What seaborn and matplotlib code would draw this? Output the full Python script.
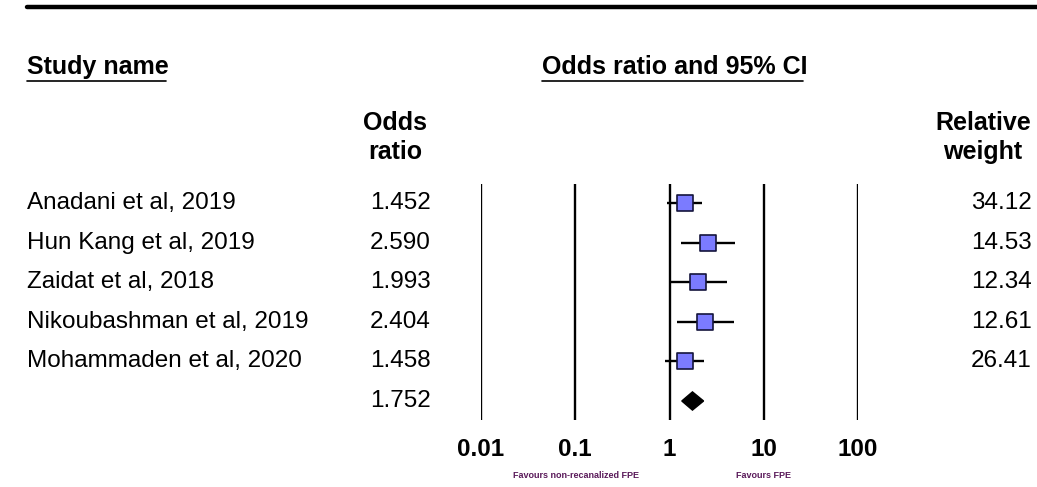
import matplotlib
matplotlib.use('Agg')
import matplotlib.pyplot as plt
import matplotlib.transforms as mtransforms
from matplotlib.lines import Line2D
import numpy as np
import pandas as pd
import seaborn as sns

# ---- data -----------------------------------------------------------------
studies = ['Anadani et al, 2019', 'Hun Kang et al, 2019', 'Zaidat et al, 2018',
           'Nikoubashman et al, 2019', 'Mohammaden et al, 2020']
odds = [1.452, 2.590, 1.993, 2.404, 1.458]
lower = [0.94, 1.34, 0.98, 1.19, 0.90]
upper = [2.22, 4.95, 4.03, 4.80, 2.33]
weights = [34.12, 14.53, 12.34, 12.61, 26.41]
pooled_or = 1.752
pooled_lo = 1.35
pooled_hi = 2.30
ticks = [0.01, 0.1, 1, 10, 100]
tick_labels = ['0.01', '0.1', '1', '10', '100']

sns.set_style('white')
plt.rcParams['font.family'] = ['Liberation Sans Narrow', 'Liberation Sans', 'DejaVu Sans']
plt.rcParams['text.color'] = 'black'
plt.rcParams['xtick.color'] = 'black'

W, H = 1037, 487
fig = plt.figure(figsize=(W / 100, H / 100), dpi=100)

# forest area: 0.01 at x=481px, 100 at x=858px, lines from y=184 to y=420
ax = fig.add_axes([481 / W, 1 - 420 / H, (858 - 481) / W, (420 - 184) / H])
ax.set_xscale('log')
ax.set_xlim(0.01, 100)
ax.set_ylim(5.48, -0.48)
for s in ax.spines.values():
    s.set_visible(False)

for t in ticks:
    ax.axvline(t, color='black', lw=1.7, zorder=1)

df = pd.DataFrame({'study': studies, 'odds': odds, 'lo': lower, 'hi': upper,
                   'row': np.arange(len(studies))})
ax.hlines(df['row'], df['lo'], df['hi'], color='black', lw=1.7, zorder=2)
sns.scatterplot(data=df, x='odds', y='row', marker='s', s=120, color='#7b7bff',
                edgecolor='#14143c', linewidth=1.2, zorder=3, ax=ax, legend=False)

# pooled diamond
yd = len(studies)
h = 0.23
ax.fill([pooled_lo, pooled_or, pooled_hi, pooled_or], [yd, yd - h, yd, yd + h],
        color='black', zorder=3)

ax.set_xticks(ticks)
ax.set_xticklabels(tick_labels, fontsize=17.5, fontweight='bold', color='black')
ax.tick_params(axis='x', length=0, pad=13)
ax.set_yticks([])
ax.set_xlabel('')
ax.set_ylabel('')

# text columns tied to the rows
trans = mtransforms.blended_transform_factory(fig.transFigure, ax.transData)
for i, (name, o, w) in enumerate(zip(studies, odds, weights)):
    ax.text(27 / W, i, name, transform=trans, ha='left', va='center', fontsize=17.5)
    ax.text(431 / W, i, f'{o:.3f}', transform=trans, ha='right', va='center', fontsize=17.5)
    ax.text(1032 / W, i, f'{w:.2f}', transform=trans, ha='right', va='center', fontsize=17.5)
ax.text(431 / W, yd, f'{pooled_or:.3f}', transform=trans, ha='right', va='center', fontsize=17.5)

# headers
def ftext(x, y, s, **kw):
    fig.text(x / W, 1 - y / H, s, **kw)

fig.add_artist(Line2D([27 / W, 1], [1 - 7 / H, 1 - 7 / H], color='black', lw=3.2))
ftext(27, 74, 'Study name', ha='left', va='baseline', fontsize=18, fontweight='bold')
ftext(542, 74, 'Odds ratio and 95% CI', ha='left', va='baseline', fontsize=18, fontweight='bold')
fig.add_artist(Line2D([27 / W, 166 / W], [1 - 80.5 / H] * 2, color='black', lw=1.2))
fig.add_artist(Line2D([542 / W, 803 / W], [1 - 80.5 / H] * 2, color='black', lw=1.2))
ftext(395, 130, 'Odds', ha='center', va='baseline', fontsize=18, fontweight='bold')
ftext(395, 159, 'ratio', ha='center', va='baseline', fontsize=18, fontweight='bold')
ftext(983, 130, 'Relative', ha='center', va='baseline', fontsize=18, fontweight='bold')
ftext(983, 159, 'weight', ha='center', va='baseline', fontsize=18, fontweight='bold')

ftext(576, 476, 'Favours non-recanalized FPE', ha='center', va='center', fontsize=6.5,
      fontweight='bold', color='#5a1a5a')
ftext(764, 476, 'Favours FPE', ha='center', va='center', fontsize=6.5,
      fontweight='bold', color='#5a1a5a')

fig.savefig('out.png', dpi=100, facecolor='white')
